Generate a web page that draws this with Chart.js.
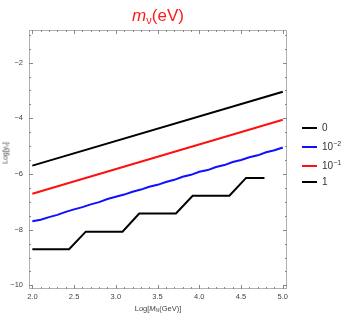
<!DOCTYPE html>
<html>
<head>
<meta charset="utf-8">
<script src="https://cdn.jsdelivr.net/npm/chart.js@4/dist/chart.umd.min.js"></script>
<style>
  body { margin: 0; background: #fff; }
  #wrap { position: relative; width: 349px; height: 313px; font-family: "Liberation Sans", Arial, sans-serif; }
  #title { position: absolute; left: 58px; width: 200px; top: 6px; text-align: center; color: #ff1a1a; font-size: 17px; line-height: 20px; }
  #title sub { font-size: 11px; vertical-align: -3px; line-height: 0; }
  #ylab { position: absolute; left: 5px; top: 153px; transform: translate(-50%, -50%) rotate(-90deg); font-size: 7px; color: #444; white-space: nowrap; }
  #ylab sub, #xlab sub { font-size: 5px; vertical-align: -1px; line-height: 0; }
  #xlab { position: absolute; left: 158px; top: 308px; transform: translate(-50%, -50%); font-size: 7.5px; color: #444; white-space: nowrap; }
  .leg { position: absolute; left: 302px; height: 12px; font-size: 10px; color: #333; }
  .leg span.ln { position: absolute; left: 0; top: 5px; width: 15px; height: 2px; }
  .leg span.tx { position: absolute; left: 20px; top: -1px; white-space: nowrap; line-height: 14px; }
  .leg sup { font-size: 7px; vertical-align: 4px; line-height: 0; }
</style>
</head>
<body>
<div id="wrap">
  <canvas id="chart" width="349" height="313"></canvas>
  <div id="title"><i>m</i><sub>ν</sub>(eV)</div>
  <div id="ylab">Log[y<sub>ν</sub>]</div>
  <div id="xlab">Log[<i>M</i><sub>N</sub>(GeV)]</div>
  <div id="legend"></div>
</div>
<script>
// --- data ---
var xTicks = [2.0, 2.5, 3.0, 3.5, 4.0, 4.5, 5.0];
var yTicks = [-10, -8, -6, -4, -2];

// m_nu = 0 (black, straight)
var zeroX = [2.0, 5.0];
var zeroY = [-5.70, -3.05];

// m_nu = 10^-1 (red, straight)
var tenthX = [2.0, 5.0];
var tenthY = [-6.71, -4.05];

// m_nu = 10^-2 (blue, slightly wavy)
var hundredthX = [2.0, 2.1, 2.2, 2.3, 2.4, 2.5, 2.6, 2.7, 2.8, 2.9, 3.0, 3.1, 3.2, 3.3, 3.4, 3.5,
                  3.6, 3.7, 3.8, 3.9, 4.0, 4.1, 4.2, 4.3, 4.4, 4.5, 4.6, 4.7, 4.8, 4.9, 5.0];
var hundredthY = [-7.70, -7.64, -7.55, -7.47, -7.36, -7.27, -7.19, -7.09, -7.01, -6.90, -6.82,
                  -6.74, -6.64, -6.56, -6.46, -6.39, -6.29, -6.21, -6.10, -6.03, -5.92, -5.86,
                  -5.75, -5.68, -5.57, -5.50, -5.40, -5.33, -5.22, -5.15, -5.05];

// m_nu = 1 (black, staircase)
var oneX = [2.0, 2.44, 2.64, 3.08, 3.28, 3.72, 3.92, 4.36, 4.56, 4.78];
var oneY = [-8.70, -8.70, -8.07, -8.07, -7.42, -7.42, -6.78, -6.78, -6.14, -6.14];

var legendLabels = ['0', '10<sup>\u22122</sup>', '10<sup>\u22121</sup>', '1'];
var legendColors = ['#000000', '#1010ff', '#ff1010', '#000000'];
var legendTops = [122, 141, 159.5, 176];

function pts(xs, ys) {
  return xs.map(function(x, i) { return { x: x, y: ys[i] }; });
}

function fmtMinus(v) {
  return String(v).replace('-', '\u2212');
}

// --- legend (html) ---
var legEl = document.getElementById('legend');
legEl.innerHTML = legendLabels.map(function(l, i) {
  return '<div class="leg" style="top:' + legendTops[i] + 'px">' +
    '<span class="ln" style="background:' + legendColors[i] + '"></span>' +
    '<span class="tx">' + l + '</span></div>';
}).join('');

// --- frame with inward ticks, Mathematica style ---
var framePlugin = {
  id: 'frame',
  afterDraw: function(chart) {
    var ctx = chart.ctx;
    var a = chart.chartArea;
    var xs = chart.scales.x, ys = chart.scales.y;
    ctx.save();
    ctx.strokeStyle = '#b0b0b0';
    ctx.lineWidth = 1;
    ctx.strokeRect(a.left + 0.5, a.top + 0.5, a.right - a.left - 1, a.bottom - a.top - 1);
    ctx.strokeStyle = '#888';
    ctx.beginPath();
    var v, p, len;
    for (var i = 0; i <= 30; i++) {
      v = 2 + i * 0.1;
      p = Math.round(xs.getPixelForValue(v)) + 0.5;
      len = (i % 5 === 0) ? 4 : 2;
      ctx.moveTo(p, a.bottom); ctx.lineTo(p, a.bottom - len);
      ctx.moveTo(p, a.top); ctx.lineTo(p, a.top + len);
    }
    for (var j = 0; j <= 18; j++) {
      v = -10 + j * 0.5;
      p = Math.round(ys.getPixelForValue(v)) + 0.5;
      len = (j % 4 === 0) ? 4 : 2;
      ctx.moveTo(a.left, p); ctx.lineTo(a.left + len, p);
      ctx.moveTo(a.right, p); ctx.lineTo(a.right - len, p);
    }
    ctx.stroke();
    ctx.restore();
  }
};

function ds(data, color) {
  return {
    data: data,
    borderColor: color,
    backgroundColor: color,
    borderWidth: 2,
    pointRadius: 0,
    showLine: true,
    tension: 0,
    fill: false
  };
}

new Chart(document.getElementById('chart').getContext('2d'), {
  type: 'scatter',
  data: {
    datasets: [
      ds(pts(zeroX, zeroY), '#000000'),
      ds(pts(hundredthX, hundredthY), '#1010ff'),
      ds(pts(tenthX, tenthY), '#ff1010'),
      ds(pts(oneX, oneY), '#000000')
    ]
  },
  options: {
    responsive: false,
    animation: false,
    devicePixelRatio: 1,
    layout: { padding: { top: 30, right: 62, left: 0, bottom: 0 } },
    plugins: { legend: { display: false }, tooltip: { enabled: false } },
    scales: {
      x: {
        type: 'linear',
        min: 1.96,
        max: 5.05,
        grid: { display: false, drawTicks: false },
        border: { display: false },
        afterBuildTicks: function(s) { s.ticks = xTicks.map(function(v) { return { value: v }; }); },
        afterFit: function(s) { s.height = 24; },
        ticks: {
          padding: 3,
          color: '#444',
          font: { family: 'Liberation Sans', size: 7.5 },
          maxRotation: 0,
          callback: function(v) { return Number(v).toFixed(1); }
        }
      },
      y: {
        type: 'linear',
        min: -10.13,
        max: -0.83,
        grid: { display: false, drawTicks: false },
        border: { display: false },
        afterBuildTicks: function(s) { s.ticks = yTicks.map(function(v) { return { value: v }; }); },
        afterFit: function(s) { s.width = 29; },
        ticks: {
          padding: 6,
          color: '#444',
          font: { family: 'Liberation Sans', size: 7.5 },
          callback: function(v) { return fmtMinus(v); }
        }
      }
    }
  },
  plugins: [framePlugin]
});
</script>
</body>
</html>
